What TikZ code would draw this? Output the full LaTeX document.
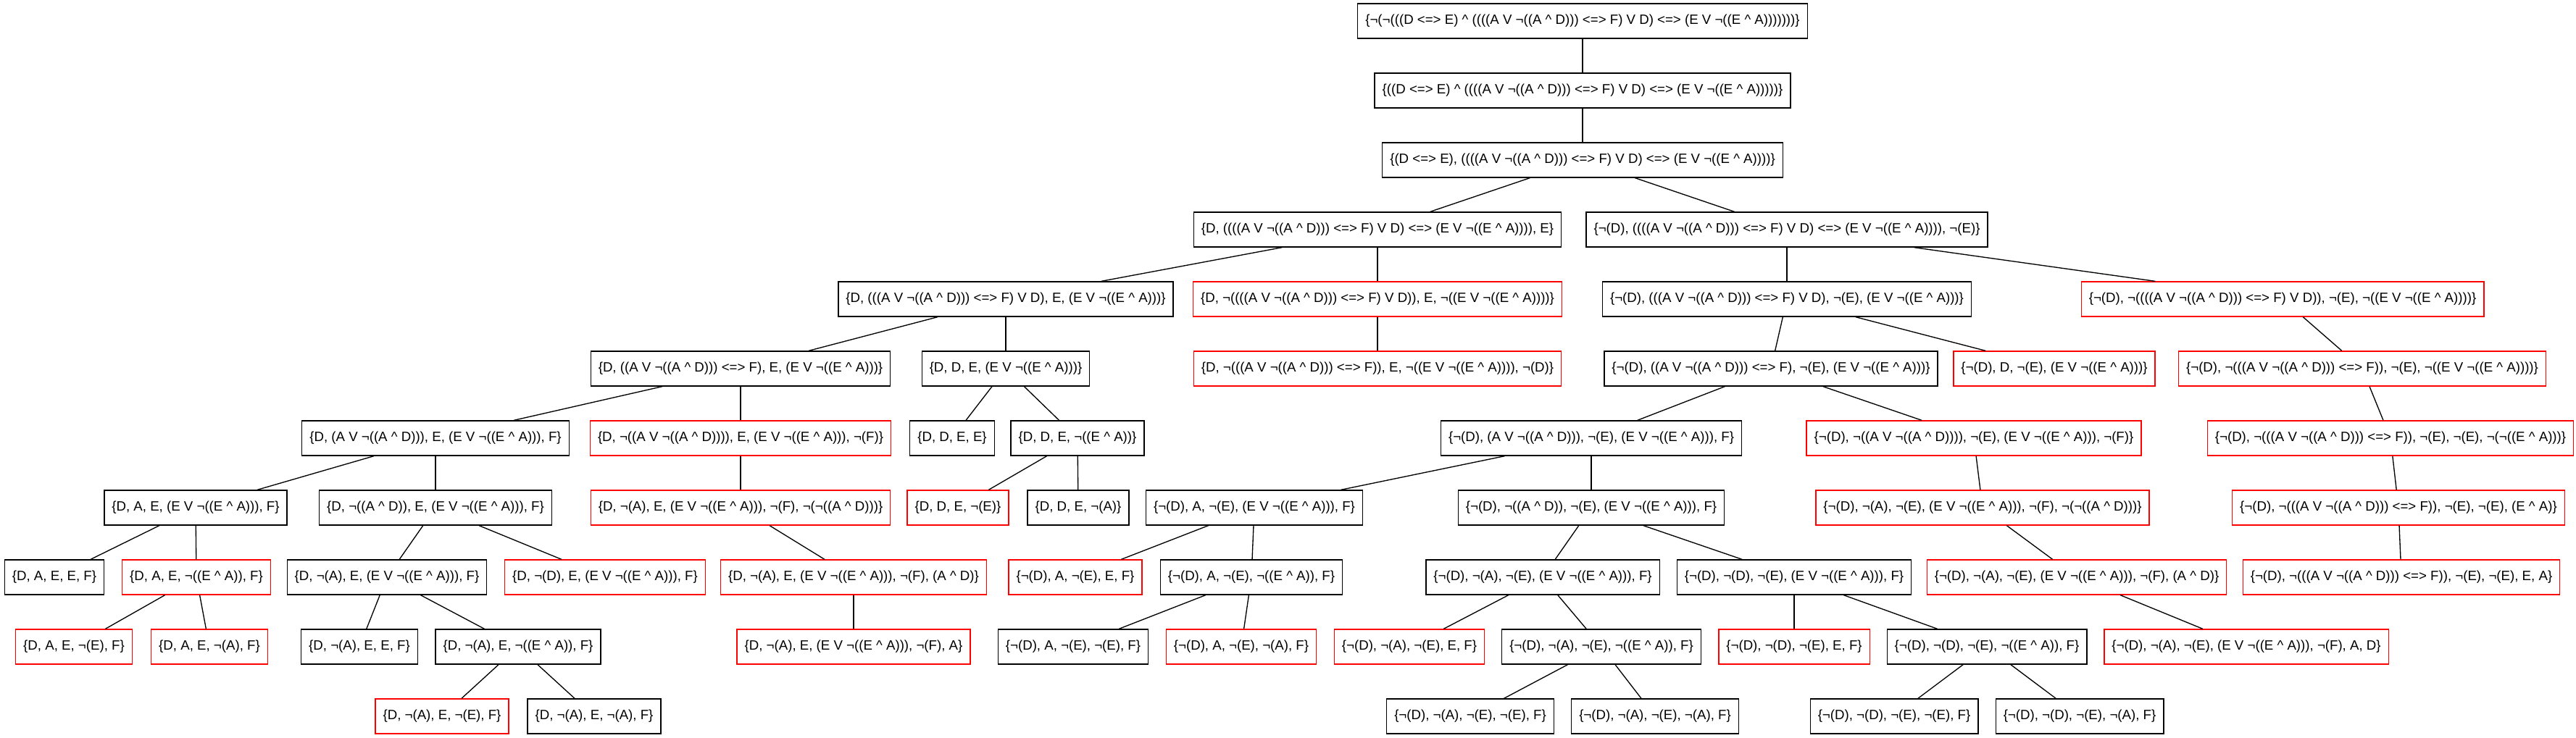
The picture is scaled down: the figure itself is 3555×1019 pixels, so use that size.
\documentclass[tikz,border=0pt]{standalone}
\usepackage{fontspec}
\setmainfont{Liberation Sans}
\newcommand{\tcaret}{\textasciicircum}
\begin{document}
\begin{tikzpicture}[x=0.75pt,y=-0.75pt,
  nb/.style={draw=black, line width=1pt, font=\fontsize{14}{16}\selectfont, minimum height=36pt, inner xsep=7.9pt, inner ysep=0pt, fill=white},
  rb/.style={nb, draw=red},
  ed/.style={line width=1pt, draw=black}]
\useasboundingbox (0,0) rectangle (3555,1019);
% row 0-2
\node[nb] (r0) at (2184,29) {\{¬(¬(((D <=> E) \tcaret{} ((((A V ¬((A \tcaret{} D))) <=> F) V D) <=> (E V ¬((E \tcaret{} A)))))))\}};
\node[nb] (r1) at (2184,125) {\{((D <=> E) \tcaret{} ((((A V ¬((A \tcaret{} D))) <=> F) V D) <=> (E V ¬((E \tcaret{} A)))))\}};
\node[nb] (r2) at (2184,221) {\{(D <=> E), ((((A V ¬((A \tcaret{} D))) <=> F) V D) <=> (E V ¬((E \tcaret{} A))))\}};
% row 3
\node[nb] (a) at (1901,317) {\{D, ((((A V ¬((A \tcaret{} D))) <=> F) V D) <=> (E V ¬((E \tcaret{} A)))), E\}};
\node[nb] (b) at (2466,317) {\{¬(D), ((((A V ¬((A \tcaret{} D))) <=> F) V D) <=> (E V ¬((E \tcaret{} A)))), ¬(E)\}};
% row 4
\node[nb] (c) at (1388,413) {\{D, (((A V ¬((A \tcaret{} D))) <=> F) V D), E, (E V ¬((E \tcaret{} A)))\}};
\node[rb] (d) at (1901,413) {\{D, ¬((((A V ¬((A \tcaret{} D))) <=> F) V D)), E, ¬((E V ¬((E \tcaret{} A))))\}};
\node[nb] (e) at (2466,413) {\{¬(D), (((A V ¬((A \tcaret{} D))) <=> F) V D), ¬(E), (E V ¬((E \tcaret{} A)))\}};
\node[rb] (f) at (3150,413) {\{¬(D), ¬((((A V ¬((A \tcaret{} D))) <=> F) V D)), ¬(E), ¬((E V ¬((E \tcaret{} A))))\}};
% row 5
\node[nb] (g) at (1022,509) {\{D, ((A V ¬((A \tcaret{} D))) <=> F), E, (E V ¬((E \tcaret{} A)))\}};
\node[nb] (h) at (1388,509) {\{D, D, E, (E V ¬((E \tcaret{} A)))\}};
\node[rb] (i) at (1901,509) {\{D, ¬(((A V ¬((A \tcaret{} D))) <=> F)), E, ¬((E V ¬((E \tcaret{} A)))), ¬(D)\}};
\node[nb] (j) at (2444,509) {\{¬(D), ((A V ¬((A \tcaret{} D))) <=> F), ¬(E), (E V ¬((E \tcaret{} A)))\}};
\node[rb] (k) at (2835,509) {\{¬(D), D, ¬(E), (E V ¬((E \tcaret{} A)))\}};
\node[rb] (l) at (3260,509) {\{¬(D), ¬(((A V ¬((A \tcaret{} D))) <=> F)), ¬(E), ¬((E V ¬((E \tcaret{} A))))\}};
% row 6
\node[nb] (m) at (601,605) {\{D, (A V ¬((A \tcaret{} D))), E, (E V ¬((E \tcaret{} A))), F\}};
\node[rb] (n) at (1022,605) {\{D, ¬((A V ¬((A \tcaret{} D)))), E, (E V ¬((E \tcaret{} A))), ¬(F)\}};
\node[nb] (hh1) at (1314,605) {\{D, D, E, E\}};
\node[nb] (hh2) at (1487,605) {\{D, D, E, ¬((E \tcaret{} A))\}};
\node[nb] (o) at (2196,605) {\{¬(D), (A V ¬((A \tcaret{} D))), ¬(E), (E V ¬((E \tcaret{} A))), F\}};
\node[rb] (p) at (2724,605) {\{¬(D), ¬((A V ¬((A \tcaret{} D)))), ¬(E), (E V ¬((E \tcaret{} A))), ¬(F)\}};
\node[rb] (q) at (3299,605) {\{¬(D), ¬(((A V ¬((A \tcaret{} D))) <=> F)), ¬(E), ¬(E), ¬(¬((E \tcaret{} A)))\}};
% row 7
\node[nb] (m1) at (270,701) {\{D, A, E, (E V ¬((E \tcaret{} A))), F\}};
\node[nb] (m2) at (601,701) {\{D, ¬((A \tcaret{} D)), E, (E V ¬((E \tcaret{} A))), F\}};
\node[rb] (n1) at (1022,701) {\{D, ¬(A), E, (E V ¬((E \tcaret{} A))), ¬(F), ¬(¬((A \tcaret{} D)))\}};
\node[rb] (hh2a) at (1322,701) {\{D, D, E, ¬(E)\}};
\node[nb] (hh2b) at (1488,701) {\{D, D, E, ¬(A)\}};
\node[nb] (o1) at (1731,701) {\{¬(D), A, ¬(E), (E V ¬((E \tcaret{} A))), F\}};
\node[nb] (o2) at (2196,701) {\{¬(D), ¬((A \tcaret{} D)), ¬(E), (E V ¬((E \tcaret{} A))), F\}};
\node[rb] (p1) at (2736,701) {\{¬(D), ¬(A), ¬(E), (E V ¬((E \tcaret{} A))), ¬(F), ¬(¬((A \tcaret{} D)))\}};
\node[rb] (q1) at (3310,701) {\{¬(D), ¬(((A V ¬((A \tcaret{} D))) <=> F)), ¬(E), ¬(E), (E \tcaret{} A)\}};
% row 8
\node[nb] (m1a) at (75,797) {\{D, A, E, E, F\}};
\node[rb] (m1b) at (271,797) {\{D, A, E, ¬((E \tcaret{} A)), F\}};
\node[nb] (m2a) at (534,797) {\{D, ¬(A), E, (E V ¬((E \tcaret{} A))), F\}};
\node[rb] (m2b) at (835,797) {\{D, ¬(D), E, (E V ¬((E \tcaret{} A))), F\}};
\node[rb] (n1a) at (1178,797) {\{D, ¬(A), E, (E V ¬((E \tcaret{} A))), ¬(F), (A \tcaret{} D)\}};
\node[rb] (o1a) at (1484,797) {\{¬(D), A, ¬(E), E, F\}};
\node[nb] (o1b) at (1727,797) {\{¬(D), A, ¬(E), ¬((E \tcaret{} A)), F\}};
\node[nb] (o2a) at (2129,797) {\{¬(D), ¬(A), ¬(E), (E V ¬((E \tcaret{} A))), F\}};
\node[nb] (o2b) at (2476,797) {\{¬(D), ¬(D), ¬(E), (E V ¬((E \tcaret{} A))), F\}};
\node[rb] (p1a) at (2866,797) {\{¬(D), ¬(A), ¬(E), (E V ¬((E \tcaret{} A))), ¬(F), (A \tcaret{} D)\}};
\node[rb] (q1a) at (3314,797) {\{¬(D), ¬(((A V ¬((A \tcaret{} D))) <=> F)), ¬(E), ¬(E), E, A\}};
% row 9
\node[rb] (m1b1) at (102,893) {\{D, A, E, ¬(E), F\}};
\node[rb] (m1b2) at (289,893) {\{D, A, E, ¬(A), F\}};
\node[nb] (m2a1) at (496,893) {\{D, ¬(A), E, E, F\}};
\node[nb] (m2a2) at (715,893) {\{D, ¬(A), E, ¬((E \tcaret{} A)), F\}};
\node[rb] (n1a1) at (1178,893) {\{D, ¬(A), E, (E V ¬((E \tcaret{} A))), ¬(F), A\}};
\node[nb] (o1b1) at (1481,893) {\{¬(D), A, ¬(E), ¬(E), F\}};
\node[rb] (o1b2) at (1713,893) {\{¬(D), A, ¬(E), ¬(A), F\}};
\node[rb] (o2a1) at (1945,893) {\{¬(D), ¬(A), ¬(E), E, F\}};
\node[nb] (o2a2) at (2210,893) {\{¬(D), ¬(A), ¬(E), ¬((E \tcaret{} A)), F\}};
\node[rb] (o2b1) at (2476,893) {\{¬(D), ¬(D), ¬(E), E, F\}};
\node[nb] (o2b2) at (2742,893) {\{¬(D), ¬(D), ¬(E), ¬((E \tcaret{} A)), F\}};
\node[rb] (p1a1) at (3100,893) {\{¬(D), ¬(A), ¬(E), (E V ¬((E \tcaret{} A))), ¬(F), A, D\}};
% row 10
\node[rb] (m2a2a) at (610,989) {\{D, ¬(A), E, ¬(E), F\}};
\node[nb] (m2a2b) at (820,989) {\{D, ¬(A), E, ¬(A), F\}};
\node[nb] (o2a2a) at (2029,989) {\{¬(D), ¬(A), ¬(E), ¬(E), F\}};
\node[nb] (o2a2b) at (2284,989) {\{¬(D), ¬(A), ¬(E), ¬(A), F\}};
\node[nb] (o2b2a) at (2614,989) {\{¬(D), ¬(D), ¬(E), ¬(E), F\}};
\node[nb] (o2b2b) at (2870,989) {\{¬(D), ¬(D), ¬(E), ¬(A), F\}};
% edges
\foreach \u/\v in {r0/r1, r1/r2, r2/a, r2/b, a/c, a/d, b/e, b/f, c/g, c/h, d/i, e/j, e/k, f/l,
  g/m, g/n, h/hh1, h/hh2, j/o, j/p, l/q,
  m/m1, m/m2, n/n1, hh2/hh2a, hh2/hh2b, o/o1, o/o2, p/p1, q/q1,
  m1/m1a, m1/m1b, m2/m2a, m2/m2b, n1/n1a, o1/o1a, o1/o1b, o2/o2a, o2/o2b, p1/p1a, q1/q1a,
  m1b/m1b1, m1b/m1b2, m2a/m2a1, m2a/m2a2, n1a/n1a1, o1b/o1b1, o1b/o1b2, o2a/o2a1, o2a/o2a2, o2b/o2b1, o2b/o2b2, p1a/p1a1,
  m2a2/m2a2a, m2a2/m2a2b, o2a2/o2a2a, o2a2/o2a2b, o2b2/o2b2a, o2b2/o2b2b}
  \draw[ed] (\u) -- (\v);
\end{tikzpicture}
\end{document}
